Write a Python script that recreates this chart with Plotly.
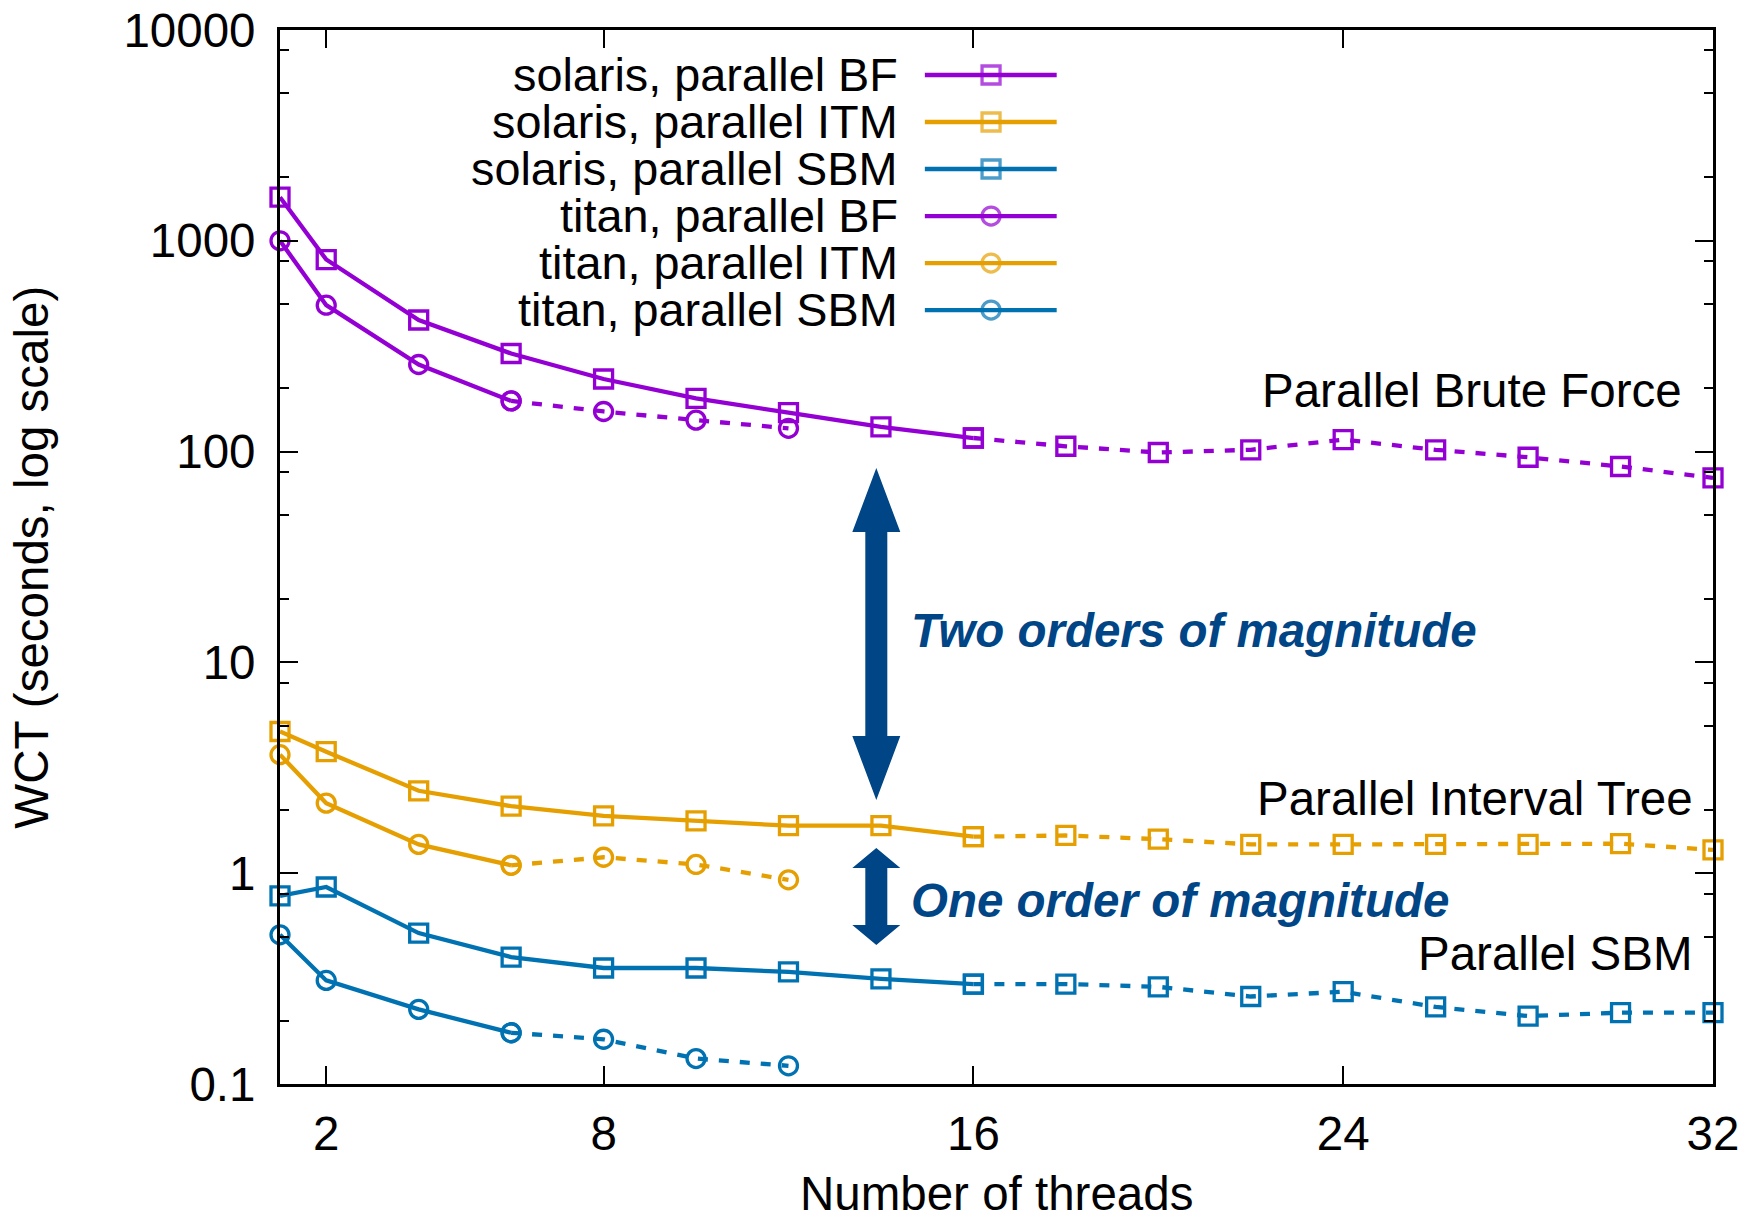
import plotly.graph_objects as go
import math

# ---------------- data ----------------
threads_solaris = [1, 2, 4, 6, 8, 10, 12, 14, 16, 18, 20, 22, 24, 26, 28, 30, 32]
threads_titan = [1, 2, 4, 6, 8, 10, 12]

solaris_bf = [1610, 815, 421, 292, 221, 179, 153, 131, 116, 106, 99, 102, 114, 102, 94, 85, 75]
solaris_itm = [4.70, 3.77, 2.46, 2.08, 1.87, 1.77, 1.68, 1.68, 1.49, 1.51, 1.45, 1.37, 1.37, 1.37, 1.37, 1.38, 1.29]
solaris_sbm = [0.78, 0.86, 0.52, 0.40, 0.355, 0.355, 0.34, 0.315, 0.298, 0.298, 0.289, 0.26, 0.274, 0.232, 0.21, 0.218, 0.218]

titan_bf = [1000, 495, 259, 174, 155, 141, 129]
titan_itm = [3.65, 2.15, 1.37, 1.09, 1.19, 1.10, 0.93]
titan_sbm = [0.51, 0.31, 0.226, 0.175, 0.163, 0.132, 0.122]

solaris_split = 16   # solid up to this thread count, dashed after
titan_split = 6

series_names = ["solaris, parallel BF", "solaris, parallel ITM", "solaris, parallel SBM",
                "titan, parallel BF", "titan, parallel ITM", "titan, parallel SBM"]

x_ticks = [2, 8, 16, 24, 32]
y_ticks = [0.1, 1, 10, 100, 1000, 10000]
y_tick_text = ["0.1", "1", "10", "100", "1000", "10000"]
y_minor = [m * 10 ** e for e in range(-1, 4) for m in (2, 5, 8)]

group_labels = ["Parallel Brute Force", "Parallel Interval Tree", "Parallel SBM"]
arrow_texts = ["Two orders of magnitude", "One order of magnitude"]

# ---------------- style ----------------
PURPLE = "#9400D3"
ORANGE = "#E69F00"
BLUE = "#0072B2"
NAVY = "#004586"
FONT = "Liberation Sans, Arial, sans-serif"
FS = 47.5
FS_KEY = 46.8
LW = 4.3
MS = 18
MLW = 3.3

fig = go.Figure()


def add_series(x, y, split, color, symbol):
    idx = x.index(split)
    xs, ys = x[: idx + 1], y[: idx + 1]
    xd, yd = x[idx:], y[idx:]
    fig.add_trace(go.Scatter(x=xd, y=yd, mode="lines+markers", cliponaxis=False,
                             line=dict(color=color, width=LW, dash="10px,11px"),
                             marker=dict(symbol=symbol, size=MS, color=color,
                                         line=dict(color=color, width=MLW)),
                             showlegend=False))
    fig.add_trace(go.Scatter(x=xs, y=ys, mode="lines+markers", cliponaxis=False,
                             line=dict(color=color, width=LW),
                             marker=dict(symbol=symbol, size=MS, color=color,
                                         line=dict(color=color, width=MLW)),
                             showlegend=False))


add_series(threads_solaris, solaris_bf, solaris_split, PURPLE, "square-open")
add_series(threads_solaris, solaris_itm, solaris_split, ORANGE, "square-open")
add_series(threads_solaris, solaris_sbm, solaris_split, BLUE, "square-open")
add_series(threads_titan, titan_bf, titan_split, PURPLE, "circle-open")
add_series(threads_titan, titan_itm, titan_split, ORANGE, "circle-open")
add_series(threads_titan, titan_sbm, titan_split, BLUE, "circle-open")

# ---------------- custom gnuplot-like key ----------------
key_colors = [PURPLE, ORANGE, BLUE, PURPLE, ORANGE, BLUE]
key_symbols = ["square-open"] * 3 + ["circle-open"] * 3
key_top = 0.9573
key_step = 0.0446
key_text_x = 0.4329
key_line = [0.450, 0.4962, 0.542]
annotations = []
for i, name in enumerate(series_names):
    yk = key_top - i * key_step
    fig.add_trace(go.Scatter(x=key_line, y=[yk] * 3, xaxis="x2", yaxis="y2",
                             mode="lines+markers", cliponaxis=False,
                             line=dict(color=key_colors[i], width=LW),
                             marker=dict(symbol=key_symbols[i], size=[0, MS, 0],
                                         color=key_colors[i],
                                         line=dict(color=key_colors[i], width=MLW)),
                             showlegend=False, hoverinfo="skip"))
    annotations.append(dict(xref="paper", yref="paper", x=key_text_x, y=yk,
                            xanchor="right", yanchor="middle", showarrow=False,
                            text=name, font=dict(family=FONT, size=FS_KEY, color="black")))

# ---------------- group labels ----------------
label_pos = [(31.38, 195), (31.62, 2.25), (31.62, 0.414)]
for txt, (lx, ly) in zip(group_labels, label_pos):
    annotations.append(dict(xref="x", yref="y", x=lx, y=math.log10(ly),
                            xanchor="right", yanchor="middle", showarrow=False,
                            text=txt, font=dict(family=FONT, size=FS, color="black")))

# arrow texts
arrow_text_pos = [(14.61, 0.4307), (14.61, 0.1738)]
for txt, (ax_, ay_) in zip(arrow_texts, arrow_text_pos):
    annotations.append(dict(xref="x", yref="paper", x=ax_, y=ay_,
                            xanchor="left", yanchor="middle", showarrow=False,
                            text="<b><i>" + txt + "</i></b>",
                            font=dict(family=FONT, size=FS, color=NAVY)))

# axis titles
annotations.append(dict(xref="paper", yref="paper", x=0.5, y=-0.104,
                        xanchor="center", yanchor="middle", showarrow=False,
                        text="Number of threads", font=dict(family=FONT, size=FS, color="black")))
annotations.append(dict(xref="paper", yref="paper", x=-0.174, y=0.5,
                        xanchor="center", yanchor="middle", showarrow=False, textangle=-90,
                        text="WCT (seconds, log scale)", font=dict(family=FONT, size=FS, color="black")))


# double-headed arrows as pixel-sized paths
def double_arrow(length, head, hw, sw):
    a = length / 2.0
    b = a - head
    pts = [(0, a), (hw, b), (sw, b), (sw, -b), (hw, -b), (0, -a),
           (-hw, -b), (-sw, -b), (-sw, b), (-hw, b)]
    return "M " + " L ".join(f"{px},{py}" for px, py in pts) + " Z"


shapes = [
    dict(type="path", xref="x", yref="paper", xsizemode="pixel", ysizemode="pixel",
         xanchor=13.9, yanchor=0.4269, path=double_arrow(332, 64, 24, 11),
         fillcolor=NAVY, line=dict(width=0)),
    dict(type="path", xref="x", yref="paper", xsizemode="pixel", ysizemode="pixel",
         xanchor=13.9, yanchor=0.1779, path=double_arrow(97, 20, 24, 11),
         fillcolor=NAVY, line=dict(width=0)),
]

fig.update_layout(
    width=1748, height=1219,
    margin=dict(l=280, r=35, t=30, b=135, autoexpand=False),
    paper_bgcolor="white", plot_bgcolor="white",
    font=dict(family=FONT, size=FS, color="black"),
    showlegend=False,
    annotations=annotations,
    shapes=shapes,
    xaxis=dict(range=[1, 32], tickvals=x_ticks, ticks="inside", ticklen=18, tickwidth=2,
               tickcolor="black", mirror="allticks", showline=True, linewidth=3,
               linecolor="black", showgrid=False, zeroline=False, automargin=False,
               tickfont=dict(family=FONT, size=FS, color="black"), ticklabelstandoff=6),
    yaxis=dict(type="log", range=[-1, 4], tickvals=y_ticks, ticktext=y_tick_text,
               ticks="inside", ticklen=18, tickwidth=2, tickcolor="black",
               mirror="allticks", showline=True, linewidth=3, linecolor="black",
               showgrid=False, zeroline=False, automargin=False,
               minor=dict(tickvals=y_minor, ticks="inside", ticklen=9, tickwidth=2,
                          tickcolor="black", showgrid=False),
               tickfont=dict(family=FONT, size=FS, color="black"), ticklabelstandoff=12),
    xaxis2=dict(overlaying="x", range=[0, 1], visible=False, fixedrange=True),
    yaxis2=dict(overlaying="y", range=[0, 1], visible=False, fixedrange=True),
)

fig.write_html("out.html")
